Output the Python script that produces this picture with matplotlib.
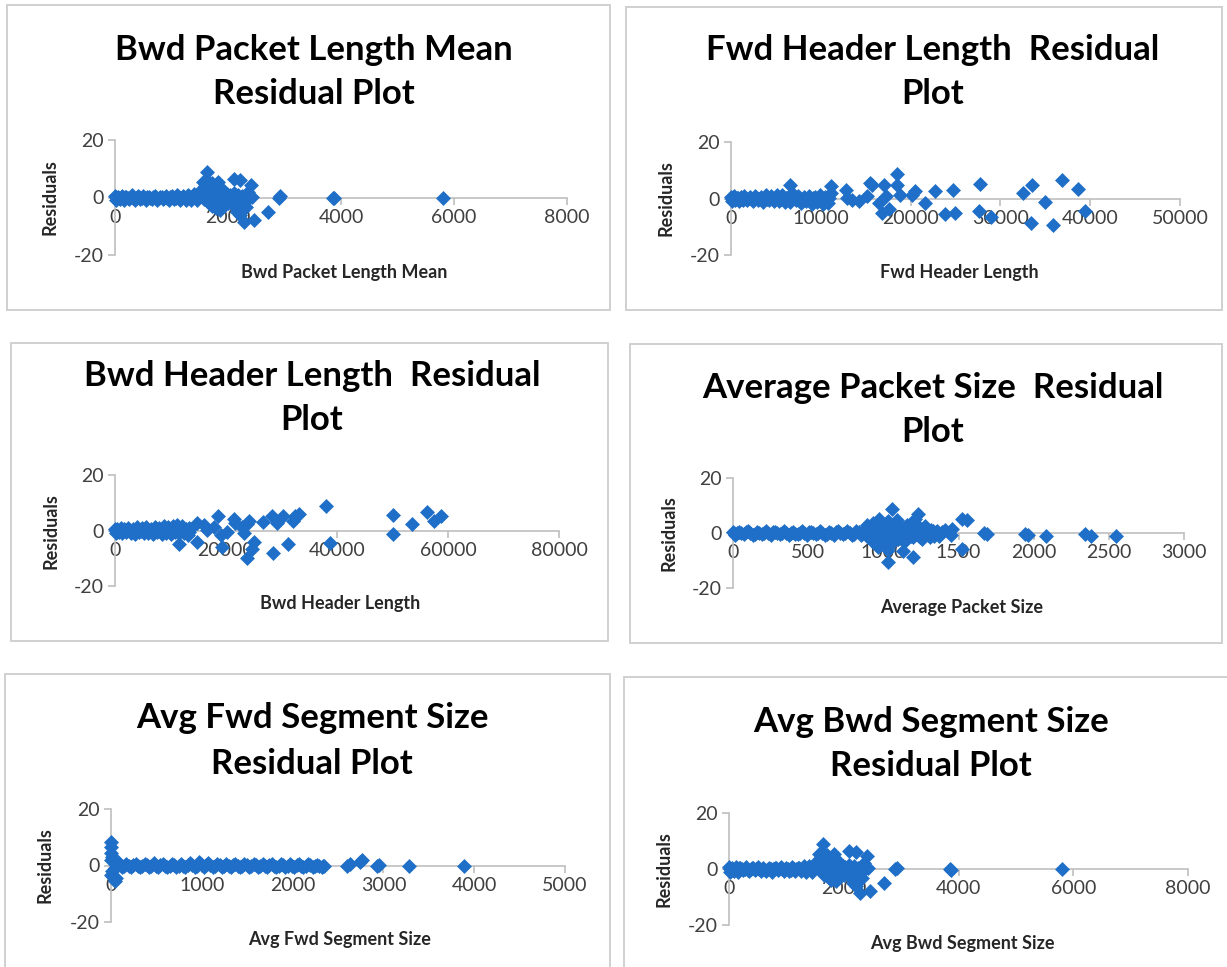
import matplotlib
matplotlib.use("Agg")
import matplotlib.pyplot as plt
from matplotlib.patches import Rectangle

plt.rcParams['axes.unicode_minus'] = False

# ---- data ----
# Bwd Packet Length Mean (the Avg Bwd Segment Size plot shows the same points)
bwd_pkt_mean_x = [0, 20, 50, 80, 120, 160, 200, 250, 300, 350, 400, 450, 500, 550, 600, 650,
                  700, 750, 800, 850, 900, 950, 1000, 1050, 1100, 1150, 1200, 1250, 1300, 1350,
                  1400, 1450, 1500,
                  25, 75, 135, 180, 225, 275, 325, 375, 425, 475, 525, 575, 625, 675, 725, 775,
                  825, 875, 925, 975, 1025, 1075, 1125, 1175, 1225, 1275, 1325, 1375, 1425, 1475,
                  1520, 1540, 1560, 1580, 1600, 1620, 1632, 1650, 1660, 1680, 1700, 1710, 1720,
                  1740, 1760, 1780, 1800, 1820, 1830, 1830, 1850, 1860, 1880, 1900, 1920, 1950,
                  1980, 2000, 2030, 2060, 2100, 2100, 2120, 2160, 2180, 2200, 2220, 2220, 2250,
                  2280, 2300, 2330, 2350, 2400, 2430, 2460, 2700, 2900, 2920, 3850, 3870, 5800,
                  1560, 1580, 1600, 1620, 1640, 1660, 1680, 1700, 1720, 1740, 1760, 1780, 1800,
                  1820, 1840, 1860, 1870, 1890, 1910, 1930, 2150, 2240, 2320]
bwd_pkt_mean_res = [0.6, -0.9, 0.3, -0.6, 0.6, -0.9, 0.2, -0.5, 0.7, -0.7, 0.4, -0.4, 0.6, -0.8,
                    0.3, -0.6, 0.5, -0.9, 0.2, -0.5, 0.6, -0.7, 0.4, -0.6, 0.8, -0.8, 0.5, -0.7,
                    1.0, -0.9, 1.2, -1.0, 1.5,
                    0.1, -0.2, 0.0, 0.2, -0.1, 0.1, -0.2, 0.0, 0.2, -0.1, 0.0, 0.1, -0.2, 0.1,
                    0.0, -0.1, 0.2, 0.0, -0.1, 0.1, 0.0, -0.2, 0.1, 0.0, 0.2, -0.1, 0.1, 0.3,
                    -0.2, 0.4,
                    1.5, 3.0, 5.5, 2.2, 4.0, -1.0, 9.0, 3.5, -2.0, 5.0, 1.0, 4.9, -3.0,
                    2.5, -1.5, 4.0, 0.5, -2.5, 5.5, -3.3, 2.0, -4.4, 1.0, -1.5, 2.5, -0.8,
                    1.2, -2.0, 0.8, -1.2, 6.6, 1.5, -0.5, -5.0, 1.0, -1.0, 6.0, -6.2, 0.5,
                    -8.5, -1.5, 0.5, 2.0, 4.5, 0.2, -7.9, -5.0, 0.0, 0.5, 0.0, -0.3, 0.0,
                    1.0, -0.5, 1.5, 2.8, 0.5, 1.8, -1.0, 3.0, 0.8, -2.5, 2.0, -3.8, 3.2,
                    1.0, -1.0, 3.0, -2.2, 0.3, -3.0, 1.0, -3.5, -2.8, -3.2]

# Fwd Header Length
fwd_hdr_x = [0, 150, 300, 500, 700, 900, 1100, 1300, 1500, 1800, 2100, 2400, 2700, 3000, 3300,
             3600, 3900, 4200, 4500, 4800, 5100, 5400, 5700, 6000, 6300, 6600, 6900, 7200, 7500,
             7800, 8100, 8400, 8700, 9000, 9300, 9600, 9900, 10200, 10500, 10800, 11100,
             75, 400, 600, 800, 1000, 1200, 1400, 1650, 1950, 2250, 2550, 2850, 3150, 3450,
             3750, 4050, 4350, 4650, 4950, 5250, 5550, 5850, 6150, 6450, 6750, 7050, 7350,
             7650, 7950, 8250, 8550, 8850, 9150, 9450, 9750, 10050, 10350, 10650, 10950,
             6550, 11100, 12770, 12950, 13500, 14250, 15170, 15430, 15700, 16470, 16800, 16990,
             17280, 17570, 18500, 18500, 18870, 20170, 20540, 21650, 22760, 23800, 24700,
             24980, 27750, 27570, 28930, 32560, 33500, 33400, 35000, 35900, 36900, 38600, 39400]
fwd_hdr_res = [0.5, -0.8, 0.8, -0.5, 0.3, -0.9, 0.7, -0.6, 1.0, -0.4, 0.6, -1.0, 0.9, -0.7, 0.4,
               -1.2, 1.1, -0.5, 0.8, -1.0, 1.2, -0.8, 1.4, -1.1, 0.6, -1.3, 1.5, -0.7, 1.0,
               -1.5, 0.4, -1.0, 0.8, -1.8, 0.5, -1.2, 1.3, -2.0, 0.6, -1.5, 1.8,
               0.0, 0.2, -0.1, 0.1, -0.2, 0.0, 0.2, -0.1, 0.1, 0.0, -0.2, 0.2, -0.1, 0.0,
               0.3, -0.2, 0.1, -0.1, 0.2, 0.0, -0.3, 0.1, 0.2, -0.2, 0.0, 0.3, -0.1,
               0.1, -0.4, 0.2, -0.2, 0.0, 0.3, -0.3, 0.1, 0.0, -0.4, 0.2, 0.1,
               4.9, 4.3, 3.1, 0.2, -0.7, -0.9, 0.8, 5.5, 4.7, -1.5, -5.0, 4.9,
               0.8, -3.8, 8.6, 4.9, 1.4, 1.4, 2.8, -1.5, 2.6, -5.6, 3.1,
               -5.0, 5.2, -4.4, -6.4, 2.0, 4.9, -8.5, -1.2, -9.4, 6.5, 3.5, -4.5]

# Bwd Header Length
bwd_hdr_x = [0, 200, 400, 700, 1000, 1300, 1600, 2000, 2400, 2800, 3200, 3600, 4000, 4400, 4800,
             5200, 5600, 6000, 6400, 6800, 7200, 7600, 8000, 8400, 8800, 9200, 9600, 10000,
             10400, 10800, 11200, 11600, 12000, 12400, 12800, 13200, 13600,
             100, 300, 550, 850, 1150, 1450, 1800, 2200, 2600, 3000, 3400, 3800, 4200, 4600,
             5000, 5400, 5800, 6200, 6600, 7000, 7400, 7800, 8200, 8600, 9000, 9400, 9800,
             10200, 10600, 11000, 11400, 11800, 12200, 12600, 13000, 13400,
             11500, 13300, 14800, 14800, 16000, 16600, 17800, 18500, 19100, 19300, 20200, 21400,
             21700, 22900, 23200, 23800, 24100, 23800, 24700, 25100, 26700, 28200, 28400, 29100,
             30300, 31200, 32100, 32400, 33200, 38100, 38700, 50000, 50000, 53600, 56300, 57500,
             58700]
bwd_hdr_res = [0.5, -0.8, 0.6, -0.5, 0.9, -1.0, 0.4, -0.7, 1.0, -0.9, 0.6, -1.2, 1.1, -0.6, 0.8,
               -1.0, 1.2, -0.8, 0.5, -1.1, 1.3, -0.7, 0.9, -1.4, 1.5, -0.9, 1.2, -1.2,
               1.8, -0.6, 2.0, -1.0, 1.6, -0.8, 0.7, -1.5, 0.4,
               0.0, 0.2, -0.1, 0.1, -0.2, 0.0, 0.2, -0.1, 0.1, 0.0, -0.2, 0.2, -0.1, 0.0,
               0.3, -0.2, 0.1, -0.1, 0.2, 0.0, -0.3, 0.1, 0.2, -0.2, 0.0, 0.3, -0.1,
               0.4, -0.3, 0.5, 0.2, 0.6, -0.2, 0.3, 0.0, -0.4,
               -4.8, 0.8, 2.6, -4.0, 2.0, 0.2, 1.4, 5.1, -1.6, -6.0, -0.4, 4.1,
               2.7, 1.4, -1.0, -10.0, 3.3, 2.4, -6.7, -4.3, 2.9, 5.1, -8.2, 2.7,
               5.3, -4.9, 3.6, 5.1, 6.0, 8.7, -4.6, 5.7, -1.2, 2.4, 6.5, 3.6,
               5.1]

# Average Packet Size
avg_pkt_x = [0, 15, 40, 70, 100, 130, 160, 190, 220, 250, 280, 310, 340, 370, 400, 430, 460, 490,
             520, 550, 580, 610, 640, 670, 700, 730, 760, 790, 820, 850, 880,
             5, 28, 55, 85, 115, 145, 175, 205, 235, 265, 295, 325, 355, 385, 415, 445, 475,
             505, 535, 565, 595, 625, 655, 685, 715, 745, 775, 805, 835, 865,
             890, 900, 910, 920, 930, 940, 950, 960, 965, 970, 980, 990, 1000, 1010, 1020, 1030,
             1030, 1030, 1040, 1055, 1060, 1070, 1080, 1090, 1100, 1110, 1120, 1130, 1140, 1150,
             1160, 1170, 1180, 1200, 1200, 1210, 1220, 1230, 1240, 1250, 1260, 1280, 1300, 1320,
             1340, 1360, 1380, 1410, 1450, 1460, 1520, 1555, 1520, 1670, 1690, 1940, 1960, 2080,
             2340, 2380, 2550,
             885, 905, 915, 925, 935, 945, 955, 975, 985, 995, 1005, 1015, 1025, 1045, 1050,
             1065, 1075, 1085, 1095, 1105, 1115, 1125, 1135, 1145, 1155, 1165, 1175, 1185, 1190,
             1215, 1235, 1245, 1255, 1270, 1290, 1310, 1330, 1350, 1370, 1390]
avg_pkt_res = [0.5, -0.6, 0.4, -0.5, 0.6, -0.6, 0.3, -0.5, 0.6, -0.7, 0.4, -0.5, 0.6, -0.6, 0.3,
               -0.5, 0.6, -0.7, 0.4, -0.5, 0.6, -0.6, 0.5, -0.7, 0.7, -0.5, 0.6, -0.8, 0.8, -0.6,
               1.0,
               0.0, 0.1, -0.1, 0.2, 0.0, -0.2, 0.1, 0.0, -0.1, 0.2, 0.0, -0.1, 0.1, 0.0, -0.2,
               0.1, 0.0, 0.2, -0.1, 0.0, 0.1, -0.2, 0.0, 0.2, -0.1, 0.1, 0.0, -0.2, 0.2, 0.0,
               2.8, -1.5, 1.0, -2.5, 3.5, -0.5, 2.0, -3.5, -5.1, 5.2, 1.5, -2.0, 3.0, -4.0, 0.5,
               4.2, -6.3, -10.5, -1.5, 8.6, 2.5, -3.0, 1.0, 4.6, -2.0, 2.5, -1.0, -6.7, 1.5,
               -2.5, 3.0, -0.5, 1.8, -8.7, -1.5, 5.2, 2.0, 7.0, -1.0, 1.2, -2.0, 2.5, -0.8, 1.0,
               -1.2, 0.8, -0.5, 1.0, -0.6, 1.6, 5.2, 4.6, -5.7, 0.0, -0.4, -0.2, -0.6, -1.0,
               -0.4, -1.0, -1.0,
               0.5, 2.0, -1.2, 0.8, -2.8, 1.5, -1.0, -2.5, 3.5, 0.0, 1.5, -2.0, 2.0, 1.0, -3.5,
               -0.5, 2.0, -1.5, 0.5, 1.2, -1.8, 0.5, -3.0, 2.0, 0.2, -1.5, 2.5, -1.0, 0.5,
               -0.5, 2.2, -1.5, 0.8, -1.0, 1.2, -1.5, 0.8, 0.2, -1.0, 0.5]

# Avg Fwd Segment Size
avg_fwd_seg_x = [0, 0, 5, 10, 0, 15, 5, 20, 44, 60, 30, 40, 50,
                 80, 120, 170, 220, 270, 320, 370, 420, 470, 520, 570, 620, 670, 720, 770, 820,
                 870, 920, 970, 1020, 1070, 1120, 1170, 1220, 1270, 1320, 1370, 1420, 1470, 1520,
                 1570, 1620, 1670, 1720, 1770, 1820, 1870, 1920, 1970, 2020, 2070, 2120, 2170,
                 2220, 2270, 2320, 2350,
                 100, 145, 195, 245, 295, 345, 395, 445, 495, 545, 595, 645, 695, 745, 795, 845,
                 895, 945, 995, 1045, 1095, 1145, 1195, 1245, 1295, 1345, 1395, 1445, 1495, 1545,
                 1595, 1645, 1695, 1745, 1795, 1845, 1895, 1945, 1995, 2045, 2095, 2145, 2195,
                 2245, 2295, 2335,
                 2600, 2630, 2745, 2760, 2930, 2950, 3280, 3890]
avg_fwd_seg_res = [8.3, 6.5, 4.5, 3.0, 2.0, -2.0, -3.5, -4.2, -5.4, -4.5, 1.5, -1.0, 2.0,
                   0.8, -0.6, 0.5, -0.7, 0.6, -0.5, 0.7, -0.6, 0.8, -0.5, 0.6, -0.7, 0.5, -0.6,
                   0.6, -0.5, 0.9, -0.6, 1.2, -0.5, 1.0, -0.7, 0.6, -0.5, 0.7, -0.6, 0.5, -0.7,
                   0.4, -0.5, 0.6, -0.6, 0.5, -0.5, 0.6, -0.4, 0.5, -0.6, 0.4, -0.5, 0.5, -0.4,
                   0.4, -0.5, 0.3, -0.4, 0.0,
                   0.1, -0.1, 0.0, 0.2, -0.1, 0.0, 0.1, -0.2, 0.0, 0.1, 0.0, -0.1, 0.2, 0.0,
                   -0.1, 0.1, 0.3, 0.0, 0.4, 0.2, 0.1, -0.1, 0.2, 0.0, -0.1, 0.1, 0.0, -0.2,
                   0.1, 0.0, 0.1, -0.1, 0.0, 0.2, -0.1, 0.0, 0.1, -0.1, 0.0, 0.1, -0.1, 0.0,
                   0.1, 0.0, -0.1, 0.0,
                   0.0, 0.6, 1.4, 1.8, -0.2, 0.2, -0.2, 0.0]

avg_bwd_seg_x = bwd_pkt_mean_x
avg_bwd_seg_res = bwd_pkt_mean_res

titles = ["Bwd Packet Length Mean\nResidual Plot",
          "Fwd Header Length  Residual\nPlot",
          "Bwd Header Length  Residual\nPlot",
          "Average Packet Size  Residual\nPlot",
          "Avg Fwd Segment Size\nResidual Plot",
          "Avg Bwd Segment Size\nResidual Plot"]
xlabels = ["Bwd Packet Length Mean", "Fwd Header Length", "Bwd Header Length",
           "Average Packet Size", "Avg Fwd Segment Size", "Avg Bwd Segment Size"]
xmax = [8000, 50000, 80000, 3000, 5000, 8000]
xstep = [2000, 10000, 20000, 500, 1000, 2000]
series = [(bwd_pkt_mean_x, bwd_pkt_mean_res), (fwd_hdr_x, fwd_hdr_res),
          (bwd_hdr_x, bwd_hdr_res), (avg_pkt_x, avg_pkt_res),
          (avg_fwd_seg_x, avg_fwd_seg_res), (avg_bwd_seg_x, avg_bwd_seg_res)]

# ---- layout in pixels (figure is 1227 x 967) ----
W, H = 1227, 967
# box: left, top, right, bottom
boxes = [(7, 5, 610, 310), (626, 7, 1222, 310),
         (11, 343, 608, 641), (630, 344, 1222, 643),
         (5, 674, 610, 975), (624, 677, 1230, 975)]
# plot area: x0, x1, y(+20), y(-20)
areas = [(115, 567, 140, 255), (731, 1180, 142, 255),
         (115, 559, 475, 586), (733, 1184, 478, 588),
         (111, 565, 809, 922), (729, 1188, 813, 925)]
title_pos = [(314, 72), (933, 72), (312, 398), (933, 410), (312, 741), (931, 744)]
xlabel_pos = [(344, 273), (959, 273), (340, 604), (962, 607), (340, 939), (962, 943)]
ylabel_pos = [(50, 197), (666, 198), (51, 531), (669, 533), (45, 865), (664, 869)]

FONT = "Lato"
BLUE = "#1F6FC8"
GRID = "#BFBFBF"


def fx(px):
    return px / W


def fy(py):
    return 1 - py / H


fig = plt.figure(figsize=(W / 100, H / 100), dpi=100)

for i in range(6):
    l, t, r, b = boxes[i]
    fig.patches.append(Rectangle((fx(l), fy(b)), fx(r - l), (b - t) / H,
                                 transform=fig.transFigure, fill=False,
                                 edgecolor="#D0D0D0", linewidth=1.4))

    x0, x1, yt, yb = areas[i]
    ax = fig.add_axes([fx(x0), fy(yb), fx(x1 - x0), (yb - yt) / H])
    xs, ys = series[i]
    ax.scatter(xs, ys, marker="D", s=58, color=BLUE, linewidths=0, zorder=3, clip_on=False)
    ax.set_xlim(0, xmax[i])
    ax.set_ylim(-20, 20)
    ax.set_xticks(range(0, xmax[i] + 1, xstep[i]))
    ax.set_yticks([-20, 0, 20])
    ax.patch.set_visible(False)
    for s in ["top", "right"]:
        ax.spines[s].set_visible(False)
    ax.spines["bottom"].set_position(("data", 0))
    ax.spines["bottom"].set_color(GRID)
    ax.spines["left"].set_color(GRID)
    ax.spines["bottom"].set_linewidth(1.2)
    ax.spines["left"].set_linewidth(1.2)
    ax.tick_params(direction="out", length=5, width=1.2, color=GRID,
                   labelcolor="#404040", labelsize=14, pad=3)
    for lab in ax.get_xticklabels() + ax.get_yticklabels():
        lab.set_family(FONT)

    tx, ty = title_pos[i]
    fig.text(fx(tx), fy(ty), titles[i], ha="center", va="center", fontsize=25,
             fontweight="bold", family=FONT, linespacing=1.5)
    lx, ly = xlabel_pos[i]
    fig.text(fx(lx), fy(ly), xlabels[i], ha="center", va="center", fontsize=13,
             fontweight="bold", family=FONT, color="#262626")
    rx, ry = ylabel_pos[i]
    fig.text(fx(rx), fy(ry), "Residuals", ha="center", va="center", fontsize=13,
             fontweight="bold", family=FONT, rotation=90, color="#262626")

fig.savefig("out.png", dpi=100, facecolor="white")
